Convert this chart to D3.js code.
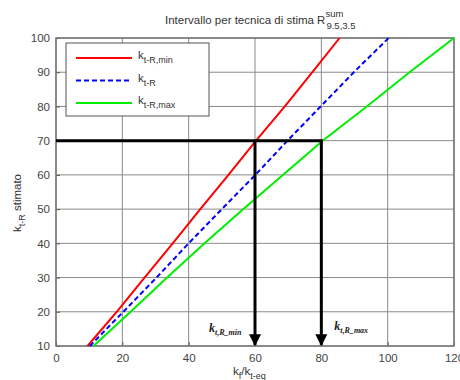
<!DOCTYPE html>
<html>
<head>
<meta charset="utf-8">
<script src="https://cdn.jsdelivr.net/npm/d3@7"></script>
<style>
  body { margin: 0; background: #fff; }
  text { font-family: "Liberation Sans", Arial, sans-serif; }
</style>
</head>
<body>
<div id="chart"></div>
<script>
// valori
const yStimato = [10, 20, 30, 40, 50, 60, 70, 80, 90, 100];
const xMin = [9.5, 18.3, 26.7, 35.2, 43.5, 52, 60.3, 69, 77.3, 85.5];
const xMed = [10.2, 20.3, 30.3, 40, 50, 60.1, 69.8, 79.8, 89.8, 100.3];
const xMax = [11.3, 22.5, 33.5, 44.8, 56.5, 68.4, 80.4, 93.7, 106.6, 120];
const xTicks = [0, 20, 40, 60, 80, 100, 120];
const yTicks = [10, 20, 30, 40, 50, 60, 70, 80, 90, 100];
const kLivello = 70;
const kFrecce = [60, 80];

const width = 460, height = 380;
const margin = { left: 56, right: 6, top: 38, bottom: 34 };

const svg = d3.select('#chart').append('svg')
    .attr('width', width)
    .attr('height', height);

const x = d3.scaleLinear().domain([0, 120]).range([margin.left, width - margin.right]);
const y = d3.scaleLinear().domain([10, 100]).range([height - margin.bottom, margin.top]);

// griglia
const g = svg.append('g');
g.selectAll('.gx').data(xTicks).enter().append('line')
    .attr('x1', d => x(d)).attr('x2', d => x(d))
    .attr('y1', y(10)).attr('y2', y(100))
    .attr('stroke', '#8a8a8a').attr('stroke-width', 1);
g.selectAll('.gy').data(yTicks).enter().append('line')
    .attr('x1', x(0)).attr('x2', x(120))
    .attr('y1', d => y(d)).attr('y2', d => y(d))
    .attr('stroke', '#8a8a8a').attr('stroke-width', 1);

// assi (tick verso l'interno, stile matlab)
const axX = svg.append('g')
    .attr('transform', `translate(0,${y(10)})`)
    .call(d3.axisBottom(x).tickValues(xTicks).tickSize(-4).tickPadding(8));
const axY = svg.append('g')
    .attr('transform', `translate(${x(0)},0)`)
    .call(d3.axisLeft(y).tickValues(yTicks).tickSize(-4).tickPadding(6));
[axX, axY].forEach(a => {
    a.select('.domain').remove();
    a.selectAll('line').attr('stroke', '#555');
    a.selectAll('text').attr('fill', '#444').style('font-size', '11.5px');
});

svg.append('rect')
    .attr('x', x(0)).attr('y', y(100))
    .attr('width', x(120) - x(0)).attr('height', y(10) - y(100))
    .attr('fill', 'none').attr('stroke', '#777').attr('stroke-width', 1.5);

// curve
const serie = [
    { xs: xMin, color: '#ff0000', dash: null },
    { xs: xMed, color: '#0000ff', dash: '5,3' },
    { xs: xMax, color: '#00ee00', dash: null }
];
const line = d3.line().x(d => x(d[0])).y(d => y(d[1]));
serie.forEach(s => {
    svg.append('path')
        .datum(s.xs.map((v, i) => [v, yStimato[i]]))
        .attr('d', line)
        .attr('fill', 'none')
        .attr('stroke', s.color)
        .attr('stroke-width', 2)
        .attr('stroke-dasharray', s.dash);
});

// linee nere con frecce
svg.append('defs').append('marker')
    .attr('id', 'freccia')
    .attr('viewBox', '0 0 10 10')
    .attr('refX', 9).attr('refY', 5)
    .attr('markerWidth', 4).attr('markerHeight', 6)
    .attr('markerUnits', 'strokeWidth')
    .attr('orient', 'auto')
    .append('path').attr('d', 'M0,0 L10,5 L0,10 Z').attr('fill', '#000');

svg.append('line')
    .attr('x1', x(0)).attr('x2', x(80) + 1.5)
    .attr('y1', y(kLivello)).attr('y2', y(kLivello))
    .attr('stroke', '#000').attr('stroke-width', 3);
kFrecce.forEach(k => {
    svg.append('line')
        .attr('x1', x(k)).attr('x2', x(k))
        .attr('y1', y(kLivello)).attr('y2', y(10) - 1)
        .attr('stroke', '#000').attr('stroke-width', 3)
        .attr('marker-end', 'url(#freccia)');
});

// etichette frecce
function kLabel(xp, yp, sub) {
    const t = svg.append('text')
        .attr('x', xp).attr('y', yp)
        .style('font-family', '"Liberation Serif", "DejaVu Serif", serif')
        .style('font-style', 'italic')
        .style('font-weight', 'bold')
        .style('font-size', '12px')
        .attr('fill', '#222');
    t.append('tspan').text('k');
    t.append('tspan').attr('dy', 3).style('font-size', '8px').text(sub);
}
kLabel(x(60) - 46, y(10) - 14, 't,R_min');
kLabel(x(80) + 13, y(10) - 16, 't,R_max');

// legenda
const leg = svg.append('g');
leg.append('rect')
    .attr('x', 66).attr('y', 43).attr('width', 143).attr('height', 73)
    .attr('fill', '#fff').attr('stroke', '#555').attr('stroke-width', 1);
const legVoci = [
    { color: '#ff0000', dash: null, sub: 't-R,min' },
    { color: '#0000ff', dash: '5,3', sub: 't-R' },
    { color: '#00ee00', dash: null, sub: 't-R,max' }
];
legVoci.forEach((v, i) => {
    const yy = 58 + i * 22.5;
    leg.append('line')
        .attr('x1', 76).attr('x2', 132).attr('y1', yy).attr('y2', yy)
        .attr('stroke', v.color).attr('stroke-width', 2)
        .attr('stroke-dasharray', v.dash);
    const t = leg.append('text').attr('x', 138).attr('y', yy + 1)
        .attr('fill', '#333').style('font-size', '11.5px');
    t.append('tspan').text('k');
    t.append('tspan').attr('dy', 4).style('font-size', '9px').text(v.sub);
});

// titolo
const titX = 165;
const tit = svg.append('text')
    .attr('x', titX).attr('y', 24)
    .attr('fill', '#333').style('font-size', '11.5px');
const titBase = tit.append('tspan').text('Intervallo per tecnica di stima R');
const rFine = titX + titBase.node().getComputedTextLength() + 1;
tit.append('tspan').attr('dy', -7).style('font-size', '9.5px').text('sum');
tit.append('tspan').attr('x', rFine).attr('dy', 12).style('font-size', '9.5px').text('9.5,3.5');

// etichette assi
const xl = svg.append('text')
    .attr('x', 233).attr('y', 375)
    .attr('fill', '#333').style('font-size', '11.5px');
xl.append('tspan').text('k');
xl.append('tspan').attr('dy', 4).style('font-size', '9px').text('f');
xl.append('tspan').attr('dy', -4).text('/k');
xl.append('tspan').attr('dy', 4).style('font-size', '9px').text('t-eq');

const yl = svg.append('text')
    .attr('transform', 'translate(21,232) rotate(-90)')
    .attr('fill', '#333').style('font-size', '11.5px');
yl.append('tspan').text('k');
yl.append('tspan').attr('dy', 4).style('font-size', '9px').text('t-R');
yl.append('tspan').attr('dy', -4).text(' stimato');
</script>
</body>
</html>
